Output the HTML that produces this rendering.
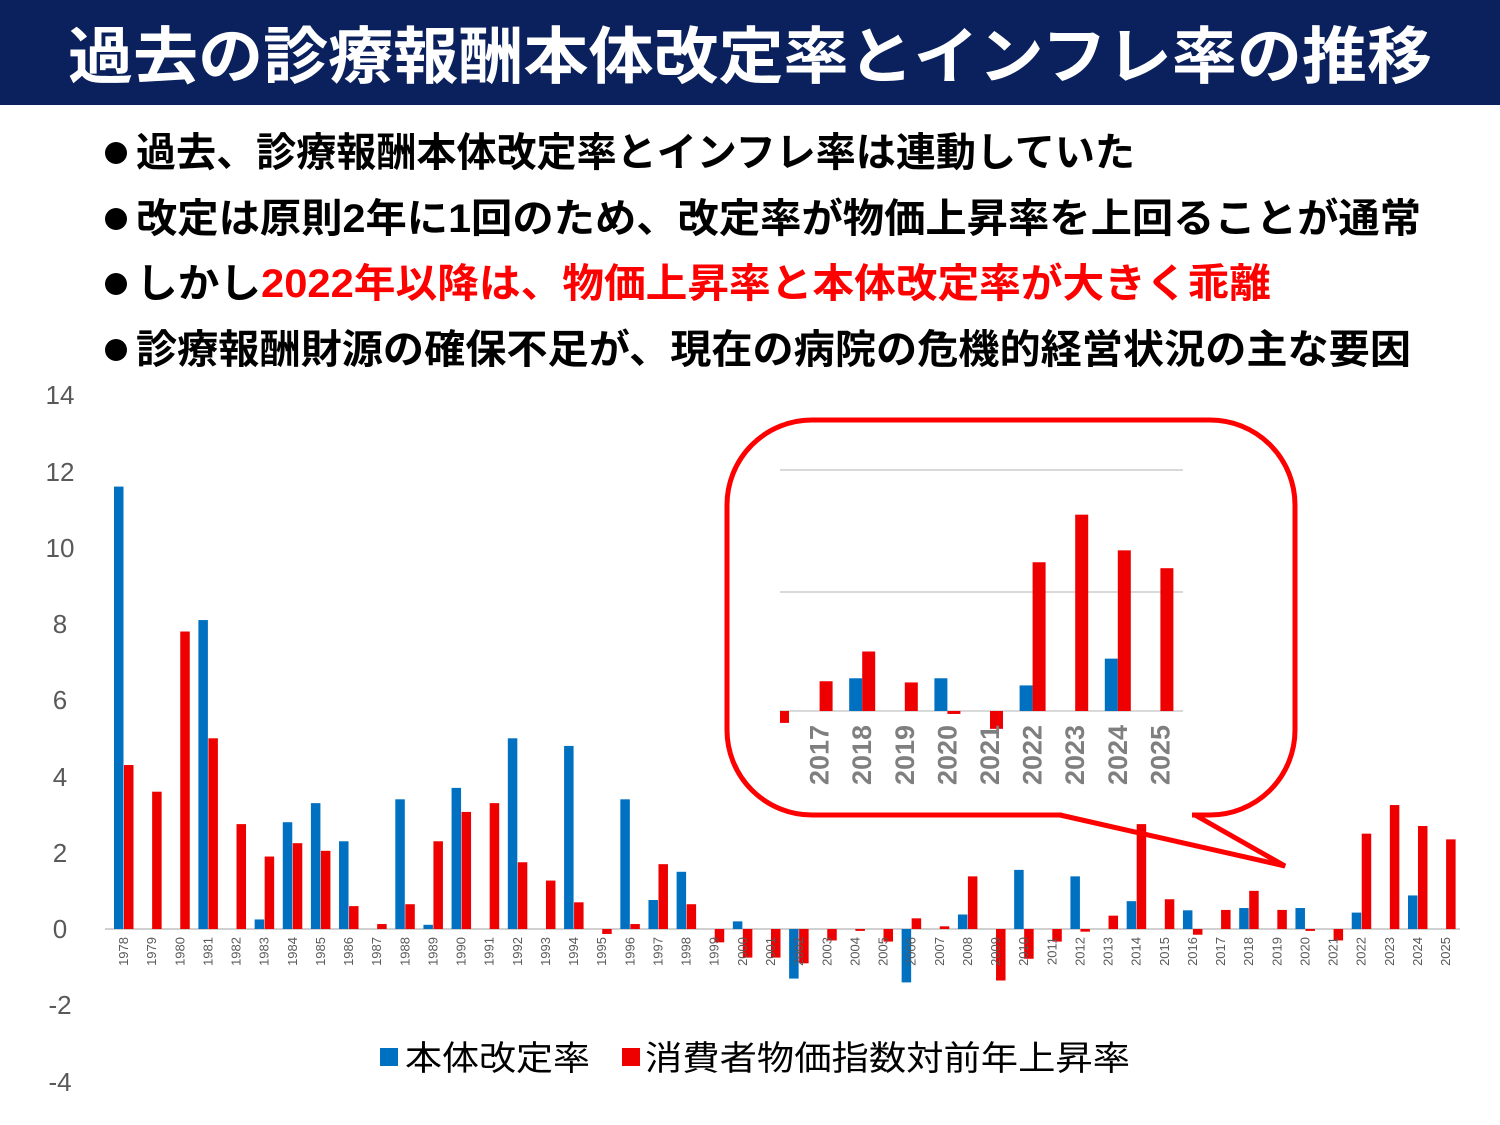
<!DOCTYPE html>
<html><head><meta charset="utf-8"><style>
html,body{margin:0;padding:0;background:#fff}
svg{display:block}
</style></head><body>
<svg id="s" width="1500" height="1125" xmlns="http://www.w3.org/2000/svg" font-family="Liberation Sans, Noto Sans CJK JP, sans-serif">
<rect x="0" y="0" width="1500" height="105" fill="#0b215e"/>
<text x="68" y="78" font-size="62" font-weight="bold" fill="#fff" textLength="1364" lengthAdjust="spacingAndGlyphs">過去の診療報酬本体改定率とインフレ率の推移</text>
<g font-size="40" font-weight="bold" fill="#000">
<circle cx="116" cy="153" r="11"/><circle cx="116" cy="219" r="11"/><circle cx="116" cy="284" r="11"/><circle cx="116" cy="350" r="11"/>
<text x="136" y="166" textLength="999" lengthAdjust="spacingAndGlyphs">過去、診療報酬本体改定率とインフレ率は連動していた</text>
<text x="136" y="232" textLength="1285" lengthAdjust="spacingAndGlyphs">改定は原則2年に1回のため、改定率が物価上昇率を上回ることが通常</text>
<text x="136" y="297" textLength="1135" lengthAdjust="spacingAndGlyphs">しかし<tspan fill="#ff0000">2022年以降は、物価上昇率と本体改定率が大きく乖離</tspan></text>
<text x="136" y="363" textLength="1275" lengthAdjust="spacingAndGlyphs">診療報酬財源の確保不足が、現在の病院の危機的経営状況の主な要因</text>
</g>
<g font-size="26" fill="#595959" text-anchor="middle">
<text x="60" y="404">14</text><text x="60" y="481">12</text><text x="60" y="557">10</text>
<text x="60" y="633">8</text><text x="60" y="709">6</text><text x="60" y="786">4</text>
<text x="60" y="862">2</text><text x="60" y="938">0</text><text x="60" y="1014">-2</text>
<text x="60" y="1091">-4</text>
</g>
<line x1="105" y1="929" x2="1460" y2="929" stroke="#d0d0d0" stroke-width="2"/>
<g id="bars"></g>
<g id="labs" font-size="13" fill="#595959"></g>
<rect x="727" y="420" width="568" height="395" rx="85" ry="85" fill="#fff" stroke="#ff0000" stroke-width="5"/>
<rect x="1062" y="810" width="130" height="10" fill="#fff"/>
<path d="M1060,815 L1285,866 L1195,815" fill="none" stroke="#ff0000" stroke-width="5" stroke-linejoin="miter"/>
<g id="inset"></g>
<g font-size="34" fill="#000">
<rect x="380" y="1048" width="18" height="18" fill="#0070c0"/>
<text x="405" y="1070" textLength="185" lengthAdjust="spacingAndGlyphs">本体改定率</text>
<rect x="622" y="1048" width="18" height="18" fill="#ee0000"/>
<text x="645" y="1070" textLength="485" lengthAdjust="spacingAndGlyphs">消費者物価指数対前年上昇率</text>
</g>
</svg>
<script>
var d=[[11.6,4.3],[0,3.6],[0,7.8],[8.1,5.0],[0,2.75],[0.25,1.9],[2.8,2.25],[3.3,2.05],[2.3,0.6],[0,0.13],[3.4,0.65],[0.11,2.3],[3.7,3.07],[0,3.3],[5.0,1.75],[0,1.27],[4.8,0.7],[0,-0.13],[3.4,0.13],[0.76,1.7],[1.5,0.65],[0,-0.35],[0.2,-0.75],[0,-0.75],[-1.3,-0.9],[0,-0.3],[0,-0.05],[0,-0.33],[-1.4,0.28],[0,0.07],[0.38,1.38],[0,-1.35],[1.55,-0.78],[0,-0.33],[1.38,-0.07],[0,0.35],[0.73,2.75],[0,0.78],[0.49,-0.15],[0,0.5],[0.55,1.0],[0,0.5],[0.55,-0.05],[0,-0.3],[0.43,2.5],[0,3.25],[0.88,2.7],[0,2.35]];
var ns="http://www.w3.org/2000/svg";
function r(g,x,y,w,h,c){var e=document.createElementNS(ns,"rect");e.setAttribute("x",x);e.setAttribute("y",y);e.setAttribute("width",w);e.setAttribute("height",h);e.setAttribute("fill",c);g.appendChild(e);}
var B=document.getElementById("bars"),L=document.getElementById("labs");
var U=38.14,Z=929;
d.forEach(function(v,i){var c=124+i*28.13;
 [0,1].forEach(function(k){var val=v[k];if(val===0)return;var h=Math.abs(val)*U;var y=val>0?Z-h:Z;
 r(B,k==0?c-10:c,y,9.5,h,k==0?"#0070c0":"#ee0000");});
 var t=document.createElementNS(ns,"text");t.setAttribute("transform","translate("+(c+4)+",937) rotate(-90)");t.setAttribute("text-anchor","end");t.textContent=1978+i;L.appendChild(t);});
var I=document.getElementById("inset");
[[470],[592],[711]].forEach(function(y){var l=document.createElementNS(ns,"line");l.setAttribute("x1",780);l.setAttribute("x2",1183);l.setAttribute("y1",y[0]);l.setAttribute("y2",y[0]);l.setAttribute("stroke","#d9d9d9");l.setAttribute("stroke-width","2");I.appendChild(l);});
var id=[[0,-0.2],[0,0.5],[0.55,1.0],[0,0.48],[0.55,-0.05],[0,-0.3],[0.43,2.5],[0,3.3],[0.88,2.7],[0,2.4]];
id.forEach(function(v,i){var c=777+i*42.6;
 [0,1].forEach(function(k){var val=v[k];if(val===0)return;var h=Math.abs(val)*59.5;var y=val>0?711-h:711;var x=k==0?c-13:c;var w=13;
 if(i==0){x=780;w=9;}
 r(I,x,y,w,h,k==0?"#0070c0":"#ee0000");});
 if(i>0){var t=document.createElementNS(ns,"text");t.setAttribute("transform","translate("+(c+9)+",785) rotate(-90)");t.setAttribute("font-size","27");t.setAttribute("font-weight","bold");t.setAttribute("fill","#7f7f7f");t.textContent=2016+i;I.appendChild(t);}});
</script>
</body></html>
